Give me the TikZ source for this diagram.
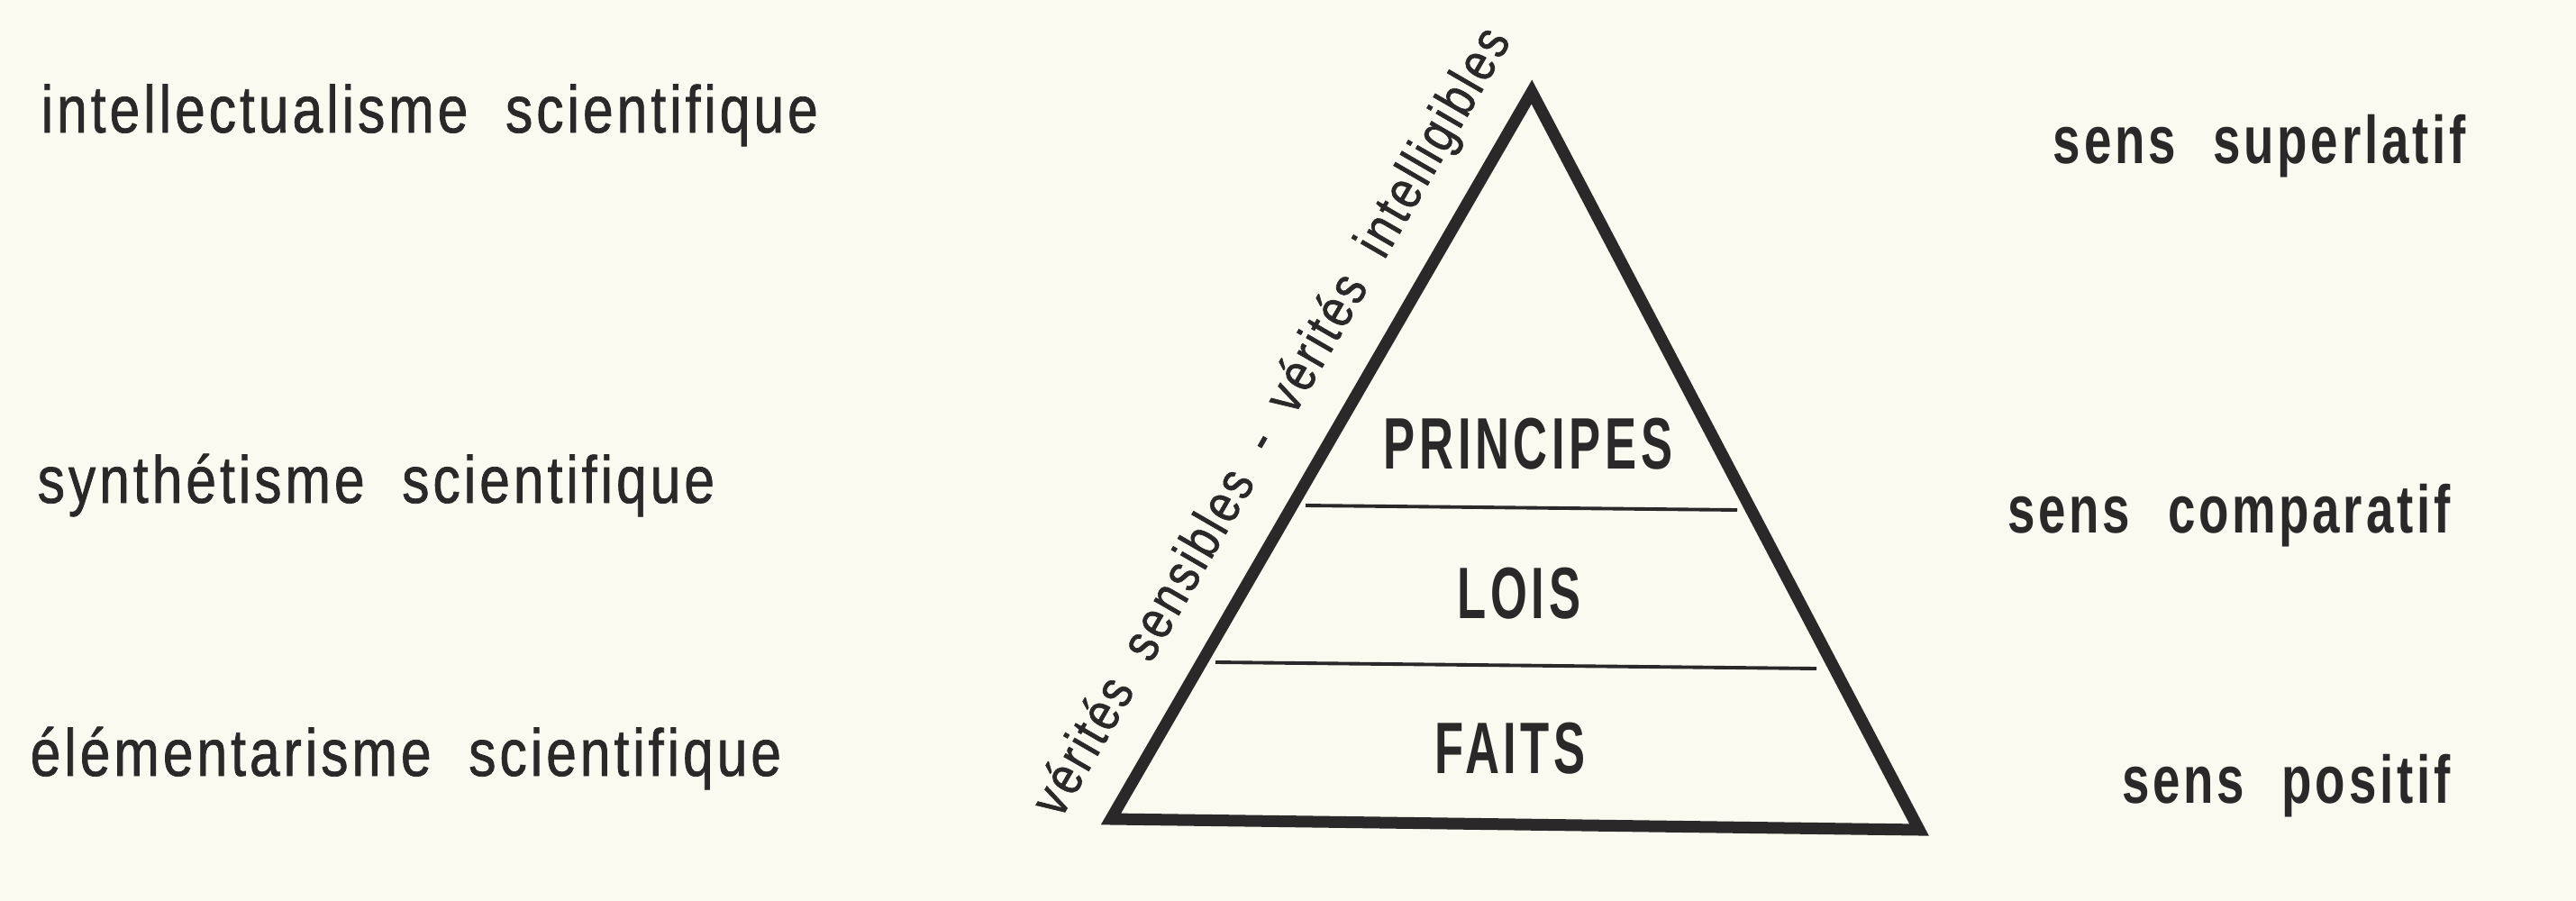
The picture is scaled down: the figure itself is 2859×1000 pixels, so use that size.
\documentclass[tikz,border=0pt]{standalone}
\usepackage{fontspec}
\usetikzlibrary{calc}
\newfontfamily\gaucheFont[FakeStretch=0.82,LetterSpace=5.4,WordSpace=2,FakeBold=1]{Liberation Sans}
\newfontfamily\droiteFont[FakeStretch=0.73,LetterSpace=5,WordSpace=2.2]{Liberation Sans}
\newfontfamily\pyramFont[FakeStretch=0.65,LetterSpace=5.7]{Liberation Sans}
\definecolor{paper}{HTML}{FAFAF1}
\definecolor{ink}{HTML}{2A2829}

\begin{document}
\begin{tikzpicture}[x=0.01cm, y=-0.01cm,
  gauche/.style={anchor=base west, inner sep=0pt, text=ink, %
    font=\gaucheFont\fontsize{21}{25}\selectfont},
  droite/.style={anchor=base east, inner sep=0pt, text=ink, %
    font=\droiteFont\bfseries\fontsize{21.3}{25}\selectfont},
  niveau/.style={anchor=base, inner sep=0pt, text=ink, %
    font=\pyramFont\bfseries\fontsize{23}{27}\selectfont},
  cote/.style={draw=ink, line width=3.7pt},
  palier/.style={draw=ink, line width=1.1pt}]
  \path[use as bounding box, fill=paper] (0,0) rectangle (2859,1000);

  % Pyramid: corners
  \coordinate (apex) at (1700,102);
  \coordinate (bl) at (1233,909);
  \coordinate (br) at (2130,921);
  \draw[cote] (apex) -- (bl) -- (br) -- cycle;

  % Pyramid: dividers
  \coordinate (upL) at (1449,561);
  \coordinate (upR) at (1928,566);
  \coordinate (loL) at (1349,735);
  \coordinate (loR) at (2016,742);
  \draw[palier] (upL) -- (upR);
  \draw[palier] (loL) -- (loR);

  % Pyramid: levels
  \node[niveau] (princ) at (1696,520) {PRINCIPES};
  \node[niveau] (lois) at (1686,686) {LOIS};
  \node[niveau] (faits) at (1676,858) {FAITS};

  % Pyramid: side label
  \coordinate (blLab) at ($(bl)+(-41.5,-24)$);
  \coordinate (apexLab) at ($(apex)+(-41.5,-24)$);
  \path (blLab) -- (apexLab) node [pos=0.505, sloped, anchor=base, %
    inner sep=0pt, text=ink, font=\gaucheFont\fontsize{17.2}{21}\selectfont] %
  (verites) {vérités sensibles - vérités intelligibles};

  % Left column: nodes
  \node[gauche] (intel) at (45,147) {intellectualisme scientifique};
  \node[gauche] (synth) at (41,558) {synthétisme scientifique};
  \node[gauche] (elem) at (33,861) {élémentarisme scientifique};

  % Right column: nodes
  \node[droite] (superl) at (2737,181) {sens superlatif};
  \node[droite] (compar) at (2720,591) {sens comparatif};
  \node[droite] (posit) at (2720,891) {sens positif};
\end{tikzpicture}
\end{document}
